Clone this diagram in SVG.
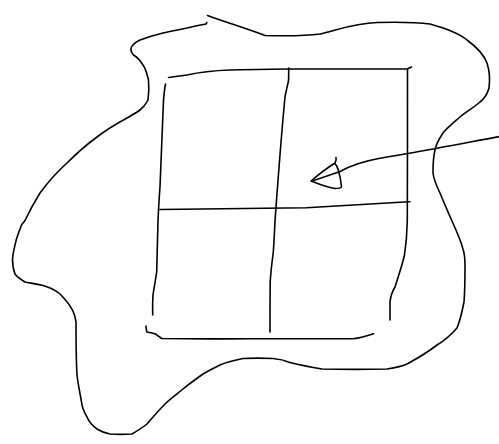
<svg xmlns="http://www.w3.org/2000/svg" width="499" height="444" viewBox="0 0 499 444">
<style>
.s{fill:none;stroke:#000;stroke-width:1.6;stroke-linecap:round;stroke-linejoin:round}
</style>
<rect width="499" height="444" fill="#fff"/>
<g id="outline">
<path class="s" d="M207.5,15.5 C225,22 245,28 265,35.5 C285,36 305,36 320,34 C340,29 356,23 377,22.5 C398,22 415,22 430,24 C448,29 460,34 467,40 C478,48 484,55 487,63 C490,72 490,80 489,88 C487,95 484,99 480,102 C473,108 466,112 460,117 C452,124 447,128 443,133 C439,139 436,144 435,150 C433,158 433,166 433,173 C434,181 437,187 440,193 C444,203 448,212 452,221 C457,232 461,241 463,249 C465,255 465,260 465,265 C465,278 465,290 464,302 C462,312 460,321 457,328 C450,336 444,341 437,345 C428,352 418,358 408,363.5 C401,367 394,368 387,369 C365,369.5 343,369.5 322,369 C310,367 300,365 290,362.5 C284,360 279,359 273,358.5 C263,358 253,358 243,358.5 C235,360 227,362 220,365 C214,368 208,371 203,374 C196,379 189,384 183,389 C177,394 171,398 165,404 C159,410 153,417 147,424 C142,428 137,431 132,434 C125,434.5 117,434.5 110,434 C105,433 100,431 97,429 C93,426 89,422 87,417 C84,412 82,407 81.5,402 C80,393 78,384 77,375 C76,358 76,340 76,322 C75,316 74,312 71.5,308.5 C68,302 64,298 60,294 C55,290 49,287 43,285.5 C36,284 30,283 25,282 C20,279 17,277 15,274 C13,269 12.5,264 12.5,259 C13,252 15,245 16.5,239 C18,234 20,229 21.5,225 C23,223 24,222 25,220.5 C30,210 35,201 40,193 C48,182 57,172 67,163 C76,154 86,145 97,137 C106,130 116,124 127,118 C132,115 136,113 140,110 C144,107 146,104 148,100 C149,93 149,86 148.5,80 C147,74 146,69 143,65 C140,60 137,57 133.5,55 C131,52 130.5,49 131.5,47 C133,44 136,42 140,40 C148,37 155,35 163,33 C171,31 178,30 187,28 C193,26.5 200,25 206,24 L206.8,22.5"/>
</g>
<g id="grid">
<path class="s" d="M168.5,77.5 C174,77 180,76 187,75 C200,72 215,70.5 230,70 C250,69.5 270,69 288,69 C330,69 370,69 407,69 L411.5,67"/>
<path class="s" d="M165.5,84 C164.5,89 164,95 163.5,100 C162.5,130 161,160 160,187 C159,199 158.5,210 158,221 C157.5,240 157,256 156.7,272 C155.5,280 154,288 153,295 C152.5,302 152.5,308 152.7,315"/>
<path class="s" d="M288.7,68 C288.7,72 288.7,76 288.6,80 C287.5,86 286,91 285,97 C281,138 278,180 275,221 C274.5,232 274,242 273.3,252 C272,262 270.8,272 270.2,282 C270,299 270,315 270,332"/>
<path class="s" d="M407.5,69 C407.5,120 407.5,170 407.3,221 C407,235 406,245 404.5,255 C402,266 398,277 395,287 C392,292 390.5,297 390,302 C390,308 390,314 390,320"/>
<path class="s" d="M160,209.5 C210,209 260,208.5 306.5,207.7 C340,206 375,203.5 408.5,201.7 L410,201.7"/>
<path class="s" d="M146,326 C146,328 146.5,330 146.8,332 C150,332.5 153,333 155.5,334 C158,335.5 160,337.5 162,338.5 C190,339 220,339 247,338.7 C280,338.7 320,338.7 353,338.7 C360,338 367,336 373.5,333.7"/>
</g>
<g id="arrow">
<path class="s" d="M499.5,136.5 C470,142 440,148 408,153.5 C398,155 390,156.5 380,158.3 C365,161 350,166 340,171.5 C330,175 320,178.5 312,181"/>
<path class="s" d="M336,157.5 C336.5,159.5 336,161.5 335,163 C327,168 318,175 311,181 C317,183 325,187 335,188.5 C338,188.5 341,188 341.5,187 C341,180 339.5,174 338.3,170 C337.5,167 336,164.5 334.5,163"/>
</g>
</svg>
